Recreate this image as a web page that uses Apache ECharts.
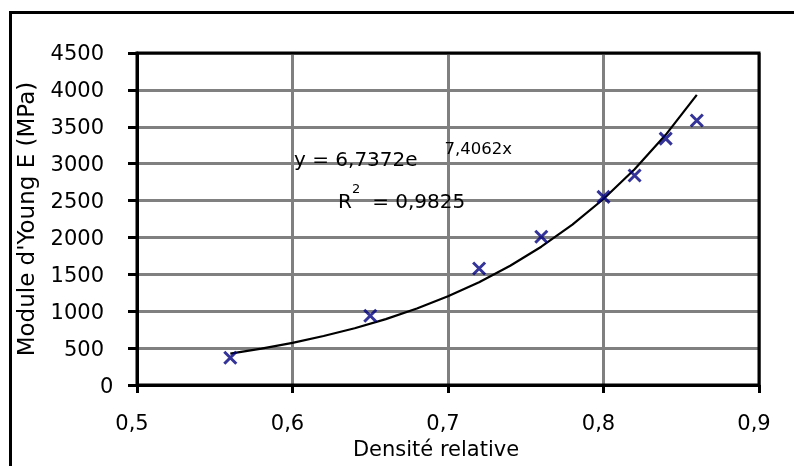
<!DOCTYPE html>
<html>
<head>
<meta charset="utf-8">
<script src="https://cdn.jsdelivr.net/npm/echarts@6/dist/echarts.min.js"></script>
<style>
  html, body { margin: 0; padding: 0; background: #fff; }
  #chart { width: 794px; height: 466px; }
</style>
</head>
<body>
<div id="chart"></div>
<script>
// Measured points (Densité relative, Module d'Young E in MPa)
const densite = [0.56, 0.65, 0.72, 0.76, 0.80, 0.82, 0.84, 0.86];
const moduleE = [370, 940, 1580, 2010, 2550, 2840, 3340, 3585];

// Exponential trend line
const trendX = [0.56, 0.58, 0.60, 0.62, 0.64, 0.66, 0.68, 0.70, 0.72, 0.74, 0.76, 0.78, 0.80, 0.82, 0.84, 0.86];
const trendY = [426, 494, 573, 665, 771, 894, 1037, 1203, 1394, 1617, 1875, 2175, 2522, 2925, 3391, 3933];

// Axis settings and texts
const xTicks = ['0,5', '0,6', '0,7', '0,8', '0,9'];
const yTicks = [0, 500, 1000, 1500, 2000, 2500, 3000, 3500, 4000, 4500];
const xTitle = 'Densité relative';
const yTitle = "Module d'Young E (MPa)";
const eqMain = 'y = 6,7372e';
const eqExp = '7,4062x';
const r2Value = '= 0,9825';

const FONT = 'DejaVu Sans';

const chart = echarts.init(document.getElementById('chart'));
chart.setOption({
  animation: false,
  backgroundColor: '#fff',
  grid: {
    show: true, z: 5,
    left: 137, right: 35, top: 53, bottom: 79,
    borderColor: '#000', borderWidth: 3,
    backgroundColor: 'transparent'
  },
  xAxis: {
    type: 'value',
    min: 0.5, max: 0.9, interval: 0.1,
    name: xTitle,
    nameLocation: 'middle',
    nameGap: 53,
    nameTextStyle: { fontFamily: FONT, fontSize: 21, color: '#000', padding: [0, 24, 0, 0] },
    axisLine: { show: true, onZero: false, lineStyle: { color: '#000', width: 3 } },
    axisTick: { show: true, inside: false, length: 8, lineStyle: { color: '#000', width: 3 } },
    axisLabel: {
      fontFamily: FONT, fontSize: 21, color: '#000', margin: 29,
      padding: [0, 10, 0, 0],
      formatter: function (v) {
        const i = Math.round((v - 0.5) / 0.1);
        return xTicks[i] !== undefined ? xTicks[i] : '';
      }
    },
    splitLine: { show: true, lineStyle: { color: '#808080', width: 3 } }
  },
  yAxis: {
    type: 'value',
    min: yTicks[0], max: yTicks[yTicks.length - 1], interval: 500,
    name: yTitle,
    nameLocation: 'middle',
    nameGap: 97,
    nameTextStyle: { fontFamily: FONT, fontSize: 23, color: '#000' },
    axisLine: { show: true, onZero: false, lineStyle: { color: '#000', width: 3 } },
    axisTick: { show: true, inside: false, length: 9, lineStyle: { color: '#000', width: 3 } },
    axisLabel: {
      fontFamily: FONT, fontSize: 21, color: '#000', margin: 33,
      padding: [4, 0, 0, 0],
      formatter: function (v) { return v === 0 ? '{z|0}' : String(v); },
      rich: {
        z: { fontFamily: FONT, fontSize: 21, color: '#000', width: 4, align: 'left' }
      }
    },
    splitLine: { show: true, lineStyle: { color: '#808080', width: 3 } }
  },
  series: [
    {
      type: 'line',
      data: trendX.map((x, i) => [x, trendY[i]]),
      showSymbol: false,
      smooth: false,
      lineStyle: { color: '#000', width: 2.2 },
      z: 3
    },
    {
      type: 'scatter',
      data: densite.map((x, i) => [x, moduleE[i]]),
      symbol: 'path://M0 0L12 12M12 0L0 12',
      symbolSize: 12,
      itemStyle: { color: 'rgba(0,0,0,0)', borderColor: '#000080', borderWidth: 3 },
      z: 4
    }
  ],
  graphic: [
    {
      type: 'rect', silent: true, z: 10,
      shape: { x: 10.5, y: 12.5, width: 1000, height: 1000 },
      style: { fill: 'none', stroke: '#000', lineWidth: 3 }
    },
    {
      type: 'text', x: 294, y: 141, z: 10,
      style: {
        text: '{b|' + eqMain + '}{e|' + eqExp + '}',
        verticalAlign: 'top', align: 'left',
        rich: {
          b: { fontFamily: FONT, fontSize: 20, lineHeight: 40, fill: '#000', verticalAlign: 'middle' },
          e: { fontFamily: FONT, fontSize: 16.5, fill: '#000', verticalAlign: 'top', padding: [0, 0, 0, 27] }
        }
      }
    },
    {
      type: 'text', x: 338, y: 183, z: 10,
      style: {
        text: '{b|R}{s|2}{g|' + r2Value + '}',
        verticalAlign: 'top', align: 'left',
        rich: {
          b: { fontFamily: FONT, fontSize: 20, lineHeight: 39, fill: '#000', verticalAlign: 'middle' },
          s: { fontFamily: FONT, fontSize: 13, fill: '#000', verticalAlign: 'top' },
          g: { fontFamily: FONT, fontSize: 20, lineHeight: 39, fill: '#000', verticalAlign: 'middle', padding: [0, 0, 0, 12] }
        }
      }
    }
  ]
});
</script>
</body>
</html>
